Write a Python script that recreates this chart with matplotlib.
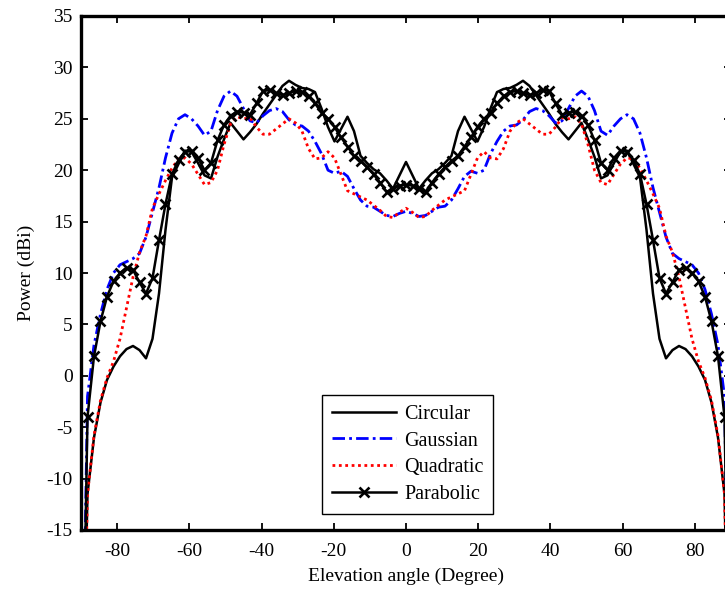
import numpy as np
import matplotlib
matplotlib.use("Agg")
import matplotlib.pyplot as plt

plt.rcParams["font.family"] = ["Liberation Serif", "DejaVu Serif"]
plt.rcParams["axes.unicode_minus"] = False

# Elevation samples from 0 to 90 degrees (1.8 degree step); the pattern is
# symmetric, so the negative half is mirrored from these.
half_angle = np.linspace(0, 90, 51)

circular = [20.8, 19.5, 18.2, 19.0, 19.7, 20.1, 20.7, 21.4, 23.8, 25.2,
            24.0, 22.8, 24.2, 26.0, 27.6, 27.9, 28.0, 28.3, 28.7, 28.2,
            27.3, 26.4, 25.5, 24.5, 23.7, 23.0, 23.8, 24.6, 23.0, 21.3,
            19.2, 19.5, 20.7, 21.8, 21.9, 20.6, 19.3, 14.2, 8.0, 3.6,
            1.7, 2.5, 2.9, 2.6, 1.9, 0.9, -0.4, -2.6, -6.0, -11.5, -40.0]

gaussian = [16.0, 15.8, 15.5, 15.6, 16.0, 16.4, 16.5, 17.1, 18.2, 19.4,
            19.9, 19.7, 20.0, 21.6, 22.8, 23.8, 24.3, 24.4, 24.9, 25.7,
            26.0, 25.8, 25.3, 24.6, 24.8, 26.0, 27.2, 27.7, 27.2, 25.8,
            23.8, 23.4, 24.3, 25.0, 25.4, 25.0, 23.6, 21.2, 18.3, 15.9,
            13.5, 11.9, 11.4, 11.1, 10.8, 10.0, 8.4, 6.0, 3.0, -2.0, -40.0]

quadratic = [16.3, 15.9, 15.4, 15.5, 16.1, 16.6, 17.1, 17.4, 17.7, 18.0,
             19.6, 21.2, 21.8, 21.2, 21.1, 22.1, 23.8, 24.6, 25.0, 24.5,
             24.0, 23.5, 23.5, 24.2, 25.1, 25.0, 25.2, 24.5, 22.5, 20.0,
             18.8, 18.6, 19.6, 20.6, 21.2, 21.1, 20.2, 19.0, 17.7, 16.3,
             13.6, 12.0, 9.6, 6.6, 3.6, 1.4, -0.2, -2.4, -5.8, -11.5, -40.0]

parabolic = [18.6, 18.5, 18.2, 17.9, 18.8, 19.6, 20.3, 20.9, 21.4, 22.3,
             23.2, 24.2, 25.0, 25.6, 26.5, 27.2, 27.6, 27.7, 27.5, 27.3,
             27.5, 27.8, 27.7, 26.5, 25.4, 25.6, 25.7, 25.3, 24.4, 22.9,
             20.7, 20.0, 21.2, 21.9, 21.8, 21.0, 19.6, 16.7, 13.2, 9.5,
             8.0, 9.1, 10.3, 10.5, 10.0, 9.2, 7.7, 5.3, 1.9, -4.0, -40.0]

labels = ["Circular", "Gaussian", "Quadratic", "Parabolic"]
x_ticks = [-80, -60, -40, -20, 0, 20, 40, 60, 80]
y_ticks = [-15, -10, -5, 0, 5, 10, 15, 20, 25, 30, 35]


def full(values):
    v = np.asarray(values, dtype=float)
    return np.concatenate([v[:0:-1], v])


angle = np.concatenate([-half_angle[:0:-1], half_angle])

fig = plt.figure(figsize=(7.25, 5.92), dpi=100)
ax = fig.add_axes([81 / 725, 62 / 592, 650 / 725, 514 / 592])

ax.plot(angle, full(circular), color="black", lw=1.8, ls="-", label=labels[0])
ax.plot(angle, full(gaussian), color="#0000ff", lw=2.0,
        ls=(0, (4.5, 1.5, 1.0, 1.5)), label=labels[1])
ax.plot(angle, full(quadratic), color="#ff0000", lw=2.0,
        ls=(0, (1.0, 1.3)), label=labels[2])
ax.plot(angle, full(parabolic), color="black", lw=1.8, ls="-",
        marker="x", ms=7, mew=1.9, label=labels[3])

ax.set_xlim(-90, 90)
ax.set_ylim(-15, 35)
ax.set_xticks(x_ticks)
ax.set_yticks(y_ticks)
ax.tick_params(direction="in", length=5, width=1.3, labelsize=14,
               top=True, right=True)
ax.tick_params(axis="x", pad=9)
ax.tick_params(axis="y", pad=6)
for s in ax.spines.values():
    s.set_linewidth(2.4)

ax.set_xlabel("Elevation angle (Degree)", fontsize=14, labelpad=6)
ax.set_ylabel("Power (dBi)", fontsize=14, labelpad=8)

leg = ax.legend(loc="upper left", bbox_to_anchor=(322 / 725, 1 - 395 / 592),
                bbox_transform=fig.transFigure, borderaxespad=0,
                fontsize=14.5, handlelength=3.2, handletextpad=0.4,
                labelspacing=0.38, borderpad=0.48, fancybox=False,
                framealpha=1, edgecolor="black")
leg.get_frame().set_linewidth(1.0)

fig.savefig("out.png", dpi=100)
